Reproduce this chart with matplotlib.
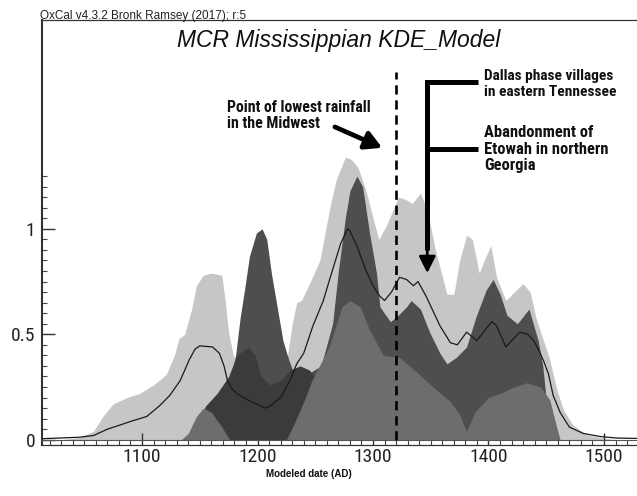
import matplotlib
matplotlib.use("Agg")
import matplotlib.pyplot as plt
from matplotlib import font_manager as fm

# fonte estreita se existir (Arial Narrow / condensada), senão Liberation Sans
nomes = {f.name for f in fm.fontManager.ttflist}
narrow = next((n for n in ['Liberation Sans Narrow', 'Arial Narrow', 'Roboto Condensed',
                           'Open Sans Condensed', 'Noto Sans Condensed', 'Noto Sans Cond']
               if n in nomes), 'Liberation Sans')
plt.rcParams['font.family'] = [narrow, 'Liberation Sans', 'DejaVu Sans']

# --- dados (ano AD, densidade) ---
# faixa superior (cinza claro)
u_year = [1013, 1030, 1045, 1058, 1066, 1075, 1087, 1098, 1110, 1121, 1128, 1132, 1137, 1143,
          1147, 1153, 1160, 1169, 1172, 1175, 1179, 1185, 1195, 1205, 1215, 1222, 1226, 1230,
          1234, 1238, 1245, 1254, 1263, 1268, 1276, 1281, 1287, 1294, 1300, 1305, 1312, 1322,
          1328, 1334, 1341, 1347, 1354, 1364, 1370, 1375, 1381, 1386, 1392, 1397, 1402, 1407,
          1415, 1424, 1430, 1436, 1441, 1447, 1453, 1459, 1465, 1473, 1485, 1497, 1510, 1550]
u_val = [0, 0, 0.01, 0.04, 0.11, 0.17, 0.20, 0.22, 0.26, 0.31, 0.40, 0.48, 0.50, 0.62,
         0.73, 0.78, 0.79, 0.78, 0.66, 0.51, 0.40, 0.35, 0.38, 0.44, 0.44, 0.38, 0.40, 0.55,
         0.65, 0.66, 0.74, 0.85, 1.11, 1.23, 1.34, 1.33, 1.29, 1.18, 1.05, 0.95, 1.02, 1.15,
         1.14, 1.12, 1.17, 1.09, 0.90, 0.69, 0.69, 0.85, 0.97, 0.95, 0.79, 0.86, 0.92, 0.77,
         0.66, 0.71, 0.74, 0.70, 0.58, 0.48, 0.38, 0.24, 0.14, 0.07, 0.025, 0.01, 0, 0]

# soma (cinza escuro)
s_year = [1160, 1170, 1175, 1181, 1185, 1189, 1193, 1199, 1204, 1208, 1212, 1217, 1222, 1227,
          1231, 1240, 1255, 1265, 1270, 1276, 1280, 1286, 1291, 1297, 1303, 1306, 1315, 1320,
          1329, 1333, 1341, 1349, 1358, 1364, 1372, 1381, 1389, 1398, 1404, 1410, 1416, 1425,
          1435, 1443, 1447, 1450, 1453, 1456]
s_val = [0, 0.10, 0.25, 0.40, 0.58, 0.72, 0.87, 0.98, 1.0, 0.95, 0.79, 0.63, 0.47, 0.38,
         0.32, 0.30, 0.35, 0.55, 0.80, 1.05, 1.18, 1.25, 1.20, 0.98, 0.79, 0.63, 0.56, 0.58,
         0.63, 0.66, 0.62, 0.51, 0.41, 0.36, 0.39, 0.44, 0.58, 0.71, 0.76, 0.69, 0.59, 0.55,
         0.62, 0.47, 0.35, 0.19, 0.06, 0]

# faixa mais escura (~1150-1250)
b_year = [1145, 1150, 1155, 1165, 1175, 1182, 1192, 1198, 1203, 1211, 1220, 1228, 1237, 1245, 1252]
b_val = [0, 0.10, 0.16, 0.22, 0.30, 0.40, 0.44, 0.40, 0.30, 0.26, 0.28, 0.33, 0.35, 0.33, 0.28]

# faixa inferior (cinza médio)
l_year = [1134, 1140, 1147, 1153, 1160, 1168, 1176, 1225, 1232, 1240, 1247, 1262, 1273, 1280,
          1289, 1297, 1309, 1323, 1338, 1352, 1367, 1375, 1381, 1388, 1400, 1410, 1422, 1433,
          1445, 1453, 1459, 1462]
l_val = [0, 0.03, 0.11, 0.15, 0.13, 0.07, 0, 0, 0.08, 0.18, 0.28, 0.44, 0.63, 0.66,
         0.63, 0.52, 0.40, 0.39, 0.32, 0.25, 0.18, 0.12, 0.04, 0.13, 0.20, 0.22, 0.25, 0.27,
         0.25, 0.19, 0.06, 0]

# média do KDE (linha)
m_year = [1013, 1029, 1046, 1058, 1070, 1081, 1092, 1104, 1115, 1124, 1133, 1141, 1146, 1150,
          1161, 1167, 1171, 1174, 1178, 1182, 1191, 1199, 1207, 1211, 1220, 1228, 1234, 1240,
          1248, 1257, 1263, 1272, 1278, 1280, 1286, 1294, 1300, 1306, 1310, 1316, 1323, 1329,
          1335, 1339, 1346, 1352, 1358, 1367, 1373, 1381, 1390, 1397, 1403, 1407, 1415, 1427,
          1434, 1439, 1444, 1448, 1452, 1456, 1462, 1470, 1482, 1497, 1511, 1550]
m_val = [0.005, 0.008, 0.012, 0.02, 0.05, 0.07, 0.09, 0.11, 0.16, 0.21, 0.28, 0.38, 0.43, 0.445,
         0.44, 0.41, 0.35, 0.28, 0.24, 0.22, 0.19, 0.17, 0.15, 0.16, 0.20, 0.28, 0.36, 0.41,
         0.54, 0.66, 0.77, 0.93, 1.0, 0.99, 0.92, 0.80, 0.73, 0.68, 0.66, 0.70, 0.77, 0.76,
         0.73, 0.75, 0.68, 0.61, 0.54, 0.46, 0.45, 0.51, 0.47, 0.52, 0.56, 0.54, 0.44, 0.51,
         0.50, 0.47, 0.42, 0.37, 0.31, 0.21, 0.13, 0.06, 0.03, 0.015, 0.008, 0.004]

x_major = [1100, 1200, 1300, 1400, 1500]
x_minor = list(range(1020, 1550, 10))
y_major = [0, 0.5, 1]
y_labels = ['0', '0.5', '1']
y_minor = [i * 0.05 for i in range(26)]

rain_min_year = 1320       # ponto de menor chuva
event_year = 1347          # Dallas / Etowah

W, H = 637, 496
fig = plt.figure(figsize=(W / 100, H / 100), dpi=100)
ax = fig.add_axes([42 / W, 1 - 445 / H, 618 / W, 425 / H])

ax.fill_between(u_year, 0, u_val, color='#c6c6c6', lw=0, zorder=1)
ax.fill_between(s_year, 0, s_val, color='#4e4e4e', lw=0, zorder=2)
ax.fill_between(b_year, 0, b_val, color='#3b3b3b', lw=0, zorder=3)
ax.fill_between(l_year, 0, l_val, color='#6d6d6d', lw=0, zorder=4)
ax.plot(m_year, m_val, color='#1a1a1a', lw=0.9, zorder=5)
ax.axhline(0, color='#555555', lw=0.8, zorder=6)

# linha tracejada
ax.vlines(rain_min_year, 0, 1.745, colors='black', lw=1.9, linestyles=(0, (3.5, 2.2)), zorder=7)

# colchete + seta (Dallas / Etowah)
ax.plot([1391, event_year, event_year], [1.697, 1.697, 0.9], color='black', lw=3.6,
        solid_joinstyle='miter', solid_capstyle='butt', zorder=8)
ax.plot([event_year, 1391], [1.379, 1.379], color='black', lw=3.6, solid_capstyle='butt', zorder=8)
ax.annotate('', xy=(event_year, 0.79), xytext=(event_year, 0.95),
            arrowprops=dict(arrowstyle='-|>,head_length=1.0,head_width=0.5', mutation_scale=10,
                            color='black', lw=2, shrinkA=0, shrinkB=0), zorder=8)

# seta (menor chuva)
ax.annotate('', xy=(1308, 1.384), xytext=(1267, 1.483),
            arrowprops=dict(arrowstyle='-|>,head_length=1.0,head_width=0.55', mutation_scale=10,
                            color='black', lw=3.4, shrinkA=0, shrinkB=0), zorder=8)

ax.set_xlim(1013.4, 1548.5)
ax.set_ylim(-0.025, 1.99)
ax.set_xticks(x_major)
ax.set_xticklabels([str(v) for v in x_major])
ax.set_xticks(x_minor, minor=True)
ax.set_yticks(y_major)
ax.set_yticklabels(y_labels)
ax.set_yticks(y_minor, minor=True)

tick_size = 14 if narrow != 'Liberation Sans' else 13
ax.tick_params(axis='both', which='major', direction='in', length=9, width=1.0,
               labelsize=tick_size, colors='#333333', labelcolor='#222222')
ax.tick_params(axis='x', which='major', pad=2)
ax.tick_params(axis='y', which='major', pad=5)
ax.tick_params(axis='both', which='minor', direction='in', length=3.5, width=0.8, colors='#444444')

ax.spines['right'].set_visible(False)
ax.spines['left'].set_linewidth(1.5)
ax.spines['top'].set_linewidth(0.9)
ax.spines['bottom'].set_linewidth(0.9)
for sp in ax.spines.values():
    sp.set_color('#333333')

fig.text(40 / W, 1 - 18.5 / H, 'OxCal v4.3.2 Bronk Ramsey (2017); r:5', fontsize=8.5,
         family=['Liberation Sans'], ha='left', va='baseline', color='#222222')
fig.text(339 / W, 1 - 47 / H, 'MCR Mississippian KDE_Model', fontsize=16.5, style='italic',
         family=['Liberation Sans'], ha='center', va='baseline', color='#111111')
fig.text(309 / W, 1 - 477 / H, 'Modeled date (AD)', fontsize=7, fontweight='bold',
         family=['Liberation Sans'], ha='center', va='baseline', color='#111111')

note_kw = dict(fontsize=11.5, fontweight='bold', ha='left', va='center', linespacing=1.15,
               color='#111111')
notas = [
    (227, 115.5, 'Point of lowest rainfall\nin the Midwest', 145),
    (484, 84, 'Dallas phase villages\nin eastern Tennessee', 133),
    (484, 149, 'Abandonment of\nEtowah in northern\nGeorgia', 124),
]
textos = [(fig.text(x / W, 1 - y / H, s, **note_kw), larg) for x, y, s, larg in notas]

# ajusta o tamanho da fonte para a largura do original
fig.canvas.draw()
rend = fig.canvas.get_renderer()
for t, larg in textos:
    w = t.get_window_extent(rend).width
    t.set_fontsize(min(12.5, t.get_fontsize() * larg / w))
    t.set_linespacing(1.15 * 11.5 / t.get_fontsize())

fig.savefig('out.png', dpi=100)
